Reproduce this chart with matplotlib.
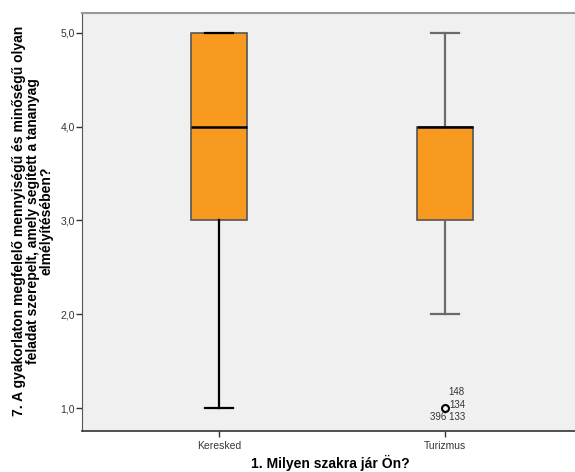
import matplotlib
matplotlib.use("Agg")
import matplotlib.pyplot as plt

categories = ["Keresked", "Turizmus"]
whislo = [1.0, 2.0]
q1 = [3.0, 3.0]
med = [4.0, 4.0]
q3 = [5.0, 4.0]
whishi = [5.0, 5.0]
fliers = [[], [1.0]]
flier_labels = [[], ["148", "134", "396 133"]]
yticks = [1.0, 2.0, 3.0, 4.0, 5.0]
ytick_labels = ["1,0", "2,0", "3,0", "4,0", "5,0"]

plt.rcParams['font.family'] = ['Liberation Sans', 'DejaVu Sans']

fig = plt.figure(figsize=(5.75, 4.72), dpi=100)
ax = fig.add_axes([0.1426, 0.0869, 0.870, 0.8856])
ax.set_facecolor('#F0F0F0')

stats = []
for i, c in enumerate(categories):
    stats.append(dict(label=c, whislo=whislo[i], q1=q1[i], med=med[i],
                      q3=q3[i], whishi=whishi[i], fliers=fliers[i]))
positions = [1, 2]
bp = ax.bxp(stats, positions=positions, widths=0.248, patch_artist=True,
            showfliers=True,
            boxprops=dict(facecolor='#F89A1F', edgecolor='#555555', linewidth=1.2),
            medianprops=dict(color='black', linewidth=1.8),
            flierprops=dict(marker='o', markerfacecolor='none', markeredgecolor='black',
                            markersize=5, markeredgewidth=1.5))
wcolors = ['black', 'black', '#6A6A6A', '#6A6A6A']
for w, col in zip(bp['whiskers'], wcolors):
    w.set_color(col); w.set_linewidth(1.6)
for cp, col in zip(bp['caps'], wcolors):
    cp.set_color(col); cp.set_linewidth(1.6)

# outlier labels (Turizmus)
xo = positions[1]
ax.text(xo + 0.014, fliers[1][0] + 0.17, flier_labels[1][0], fontsize=7, color='#333333', ha='left', va='center')
ax.text(xo + 0.018, fliers[1][0] + 0.03, flier_labels[1][1], fontsize=7, color='#333333', ha='left', va='center')
ax.text(xo + 0.09, fliers[1][0] - 0.10, flier_labels[1][2], fontsize=7, color='#333333', ha='right', va='center')

ax.set_xlim(0.394, 2.606)
ax.set_ylim(0.755, 5.213)
ax.set_yticks(yticks)
ax.set_yticklabels(ytick_labels)
ax.set_xticks(positions)
ax.set_xticklabels(categories)
ax.tick_params(axis='both', labelsize=7.5, labelcolor='#333333', color='#333333',
               length=4, width=1, direction='out')
ax.tick_params(axis='y', pad=1)

for s in ['top', 'right']:
    ax.spines[s].set_color('#999999')
    ax.spines[s].set_linewidth(1.5)
ax.spines['left'].set_color('#555555')
ax.spines['bottom'].set_color('#333333')
ax.spines['bottom'].set_linewidth(1.2)

fig.text(0.575, 0.019, "1. Milyen szakra jár Ön?", fontsize=10, fontweight='bold',
         ha='center', va='center')
fig.text(0.057, 0.532, "7. A gyakorlaton megfelelő mennyiségű és minőségű olyan\nfeladat szerepelt, amely segített a tananyag\nelmélyítésében?",
         rotation=90, ha='center', va='center', fontsize=10, fontweight='bold',
         multialignment='center', linespacing=0.95)

fig.savefig("out.png", dpi=100)
